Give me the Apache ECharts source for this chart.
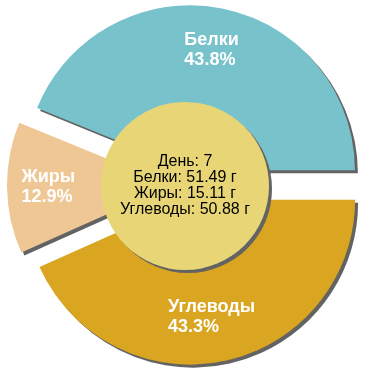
<!DOCTYPE html>
<html><head><meta charset="utf-8">
<script src="https://cdn.jsdelivr.net/npm/echarts@6/dist/echarts.min.js"></script>
<style>html,body{margin:0;padding:0;background:#fff}#c{width:370px;height:370px}</style>
</head><body><div id="c"></div>
<script>
const categories = ['Белки', 'Жиры', 'Углеводы'];
const grams = [51.49, 15.11, 50.88];
const day = 7;
const unit = 'г';

const colors = ['#78c3cb', '#efc795', '#daa520'];
const labelShift = [[-22, -36], [-65, 0], [-40, 34]];

const chart = echarts.init(document.getElementById('c'), null, {renderer: 'canvas'});
const shadow = {shadowColor: '#636363', shadowBlur: 0, shadowOffsetX: 3, shadowOffsetY: 3};
const centerText = ['День: ' + day].concat(categories.map((c, i) => c + ': ' + grams[i].toFixed(2) + ' ' + unit)).join('\n');

chart.setOption({
  animation: false,
  series: [
    {
      type: 'pie',
      center: [187, 185],
      radius: [0, 165],
      startAngle: 0,
      clockwise: false,
      selectedMode: 'multiple',
      selectedOffset: 15,
      percentPrecision: 1,
      silent: true,
      emphasis: {disabled: true},
      labelLine: {show: false},
      data: categories.map((c, i) => ({
        name: c, value: grams[i], selected: true,
        itemStyle: Object.assign({color: colors[i]}, shadow)
      })),
      label: {
        show: true, position: 'inside', formatter: '{b}\n{d}%',
        color: '#fff', fontFamily: 'Liberation Sans, Arial, sans-serif',
        fontWeight: 'bold', fontSize: 18, lineHeight: 20
      },
      labelLayout: function (p) {
        const s = labelShift[p.dataIndex];
        return {dx: s[0], dy: s[1], align: 'left', verticalAlign: 'middle'};
      }
    },
    {
      type: 'pie',
      center: [185, 186],
      radius: [0, 84],
      silent: true,
      emphasis: {disabled: true},
      labelLine: {show: false},
      data: [{value: 1, name: 'center', itemStyle: Object.assign({color: '#e8d676'}, shadow)}],
      label: {
        show: true, position: 'center', formatter: () => centerText,
        color: '#000', fontFamily: 'Liberation Sans, Arial, sans-serif', fontSize: 16, lineHeight: 16
      }
    }
  ]
});
</script></body></html>
